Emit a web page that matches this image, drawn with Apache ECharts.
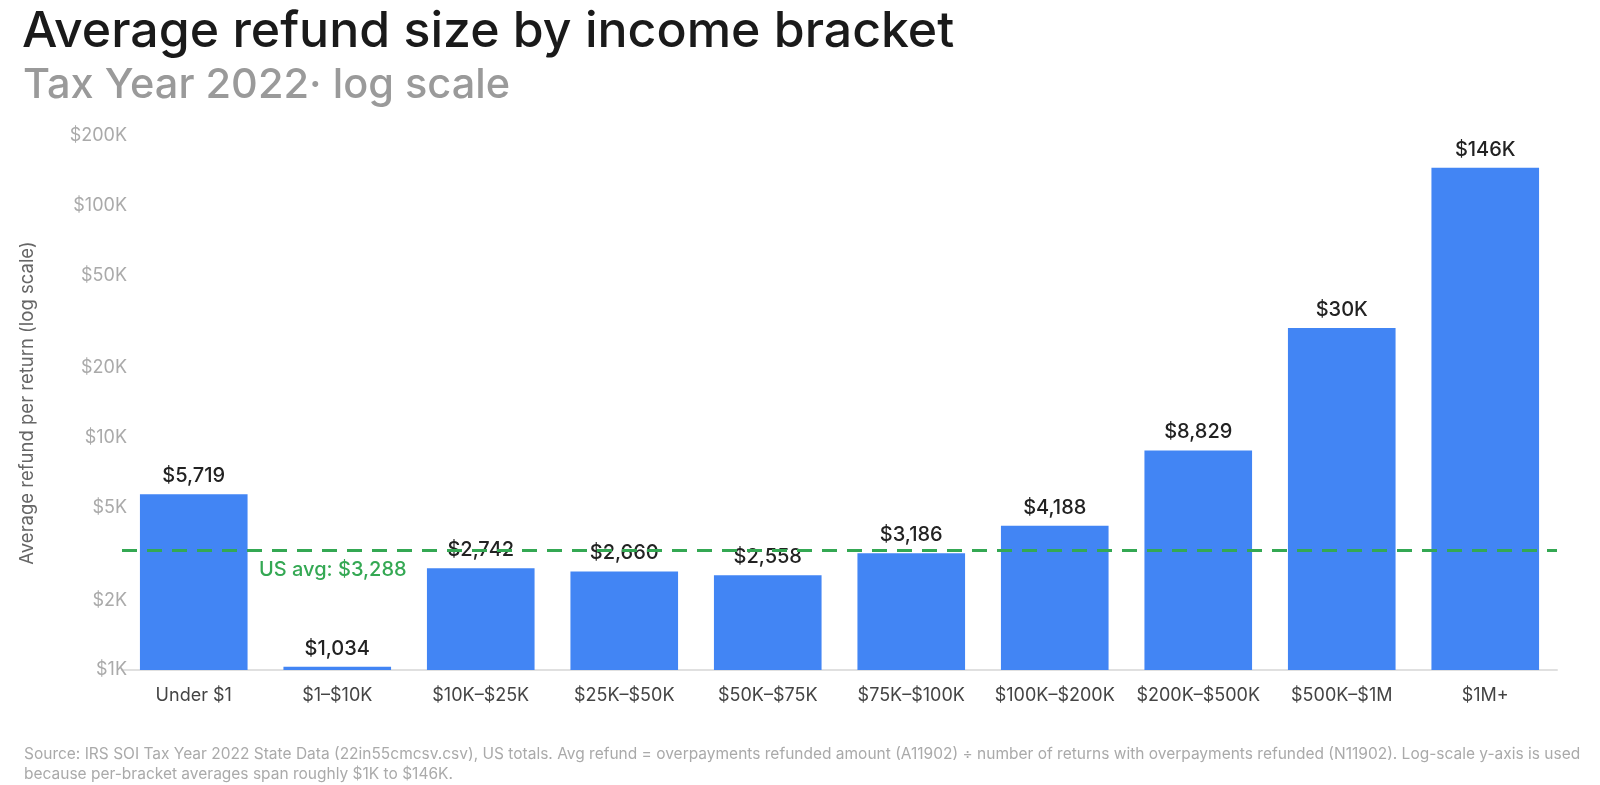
<!DOCTYPE html>
<html>
<head>
<meta charset="utf-8">
<script src="https://cdn.jsdelivr.net/npm/echarts@6/dist/echarts.min.js"></script>
<style>
html,body{margin:0;padding:0;background:#fff;}
#chart{width:1600px;height:785px;}
</style>
</head>
<body>
<div id="chart"></div>
<script>
const categories = ['Under $1','$1–$10K','$10K–$25K','$25K–$50K','$50K–$75K','$75K–$100K','$100K–$200K','$200K–$500K','$500K–$1M','$1M+'];
const avgRefund = [5719, 1034, 2742, 2660, 2558, 3186, 4188, 8829, 29800, 146000];
const usAverage = 3288;
const yTicks = [1000, 2000, 5000, 10000, 20000, 50000, 100000, 200000];

const FONT = 'Inter, "Noto Sans", sans-serif';
function fmtTick(v){ return '$' + Math.round(v/1000) + 'K'; }
function fmtVal(v){ return v >= 10000 ? '$' + Math.round(v/1000) + 'K' : '$' + v.toLocaleString('en-US'); }

const chart = echarts.init(document.getElementById('chart'));
chart.setOption({
  backgroundColor: '#fff',
  animation: false,
  title: [
    {text: 'Average refund size by income bracket', left: 17, top: 2,
     textStyle: {fontFamily: FONT, fontSize: 50, fontWeight: 500, color: '#1a1a1a'}},
    {text: 'Tax Year 2022· log scale', left: 18, top: 60,
     textStyle: {fontFamily: FONT, fontSize: 41.5, fontWeight: 500, color: '#9a9a9a'}},
    {text: 'Source: IRS SOI Tax Year 2022 State Data (22in55cmcsv.csv), US totals. Avg refund = overpayments refunded amount (A11902) ÷ number of returns with overpayments refunded (N11902). Log-scale y-axis is used\nbecause per-bracket averages span roughly $1K to $146K.',
     left: 19, top: 739,
     textStyle: {fontFamily: FONT, fontSize: 15.5, fontWeight: 400, color: '#aaaaaa', lineHeight: 20}}
  ],
  grid: {left: 122, right: 43, top: 136, bottom: 115},
  xAxis: {
    type: 'category', data: categories,
    axisLine: {show: true, lineStyle: {color: '#e0e0e0', width: 2}},
    axisTick: {show: false},
    axisLabel: {interval: 0, hideOverlap: false, fontFamily: FONT, fontSize: 18, color: '#444', margin: 17}
  },
  yAxis: {
    type: 'log', logBase: 10, min: 1000, max: 200000,
    name: 'Average refund per return (log scale)', nameLocation: 'middle', nameGap: 85,
    nameTextStyle: {fontFamily: FONT, fontSize: 18.5, color: '#666'},
    axisLine: {show: false}, axisTick: {show: false}, splitLine: {show: false},
    axisLabel: {customValues: yTicks, formatter: fmtTick, fontFamily: FONT, fontSize: 18, color: '#aaaaaa', margin: -5}
  },
  series: [{
    type: 'bar', data: avgRefund, barWidth: '75%', clip: true,
    itemStyle: {color: '#4285F4'},
    label: {show: true, position: 'top', distance: 8, formatter: p => fmtVal(p.value),
      fontFamily: FONT, fontSize: 20, fontWeight: 500, color: '#222'},
    markLine: {
      symbol: 'none', silent: true,
      data: [{yAxis: usAverage}],
      lineStyle: {color: '#34A853', type: [15, 10], width: 3},
      label: {show: true, position: 'insideStartBottom', formatter: 'US avg: $3,288',
        offset: [132, 5], fontFamily: FONT, fontSize: 20, fontWeight: 500, color: '#34A853'}
    }
  }]
});
</script>
</body>
</html>
